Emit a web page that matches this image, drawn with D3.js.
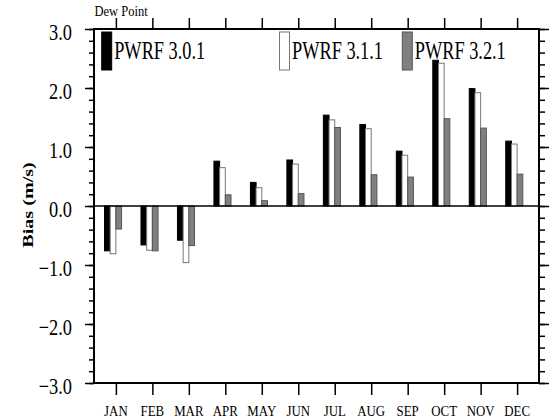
<!DOCTYPE html>
<html><head><meta charset="utf-8">
<script src="https://cdn.jsdelivr.net/npm/d3@7"></script>
<style>body{margin:0;background:#fff}svg{display:block}text{font-family:"Liberation Serif","Times New Roman",serif;fill:#000}</style>
</head><body><svg id="c" width="553" height="419"></svg>
<script>
const months = ["JAN","FEB","MAR","APR","MAY","JUN","JUL","AUG","SEP","OCT","NOV","DEC"];
const seriesNames = ["PWRF 3.0.1","PWRF 3.1.1","PWRF 3.2.1"];
const pwrf301 = [-0.76,-0.66,-0.58,0.76,0.40,0.78,1.54,1.38,0.93,2.47,1.99,1.10];
const pwrf311 = [-0.81,-0.75,-0.96,0.65,0.31,0.71,1.46,1.31,0.86,2.42,1.92,1.05];
const pwrf321 = [-0.39,-0.76,-0.67,0.19,0.09,0.21,1.33,0.53,0.49,1.48,1.32,0.54];
const yTicks = [-3,-2,-1,0,1,2,3];
const title = "Dew Point";
const yTitle = "Bias (m/s)";

const series = [pwrf301, pwrf311, pwrf321];
const fills = ["#000000","#ffffff","#808080"];
const strokes = ["#000000","#777777","#555555"];

const L=94, R=539, T=29, B=383;
const svg = d3.select("#c");
const x = d3.scaleLinear().domain([0.4,12.6]).range([L,R]);
const y = d3.scaleLinear().domain([-3,3]).range([B,T]);
const bw = 0.156;

// bars
series.forEach((s,si)=>{
  svg.append("g").selectAll("rect").data(s).join("rect")
    .attr("x",(d,i)=>x(i+1+(si-2)*bw))
    .attr("width",x(bw)-x(0))
    .attr("y",d=>y(Math.max(0,d)))
    .attr("height",d=>Math.abs(y(d)-y(0)))
    .attr("fill",fills[si]).attr("stroke",strokes[si]).attr("stroke-width",1);
});

// zero line
svg.append("line").attr("x1",L).attr("x2",R).attr("y1",y(0)).attr("y2",y(0)).attr("stroke","#000").attr("stroke-width",1.5);

// axes using d3 axes
const minor = d3.range(-3,3.001,0.2).map(v=>Math.round(v*10)/10);
const gl = svg.append("g").attr("transform",`translate(${L},0)`);
gl.call(d3.axisLeft(y).tickValues(minor).tickSize(5).tickFormat(""));
const gl2 = svg.append("g").attr("transform",`translate(${L},0)`);
gl2.call(d3.axisLeft(y).tickValues(yTicks).tickSize(9).tickFormat(""));
const gr = svg.append("g").attr("transform",`translate(${R},0)`);
gr.call(d3.axisRight(y).tickValues(minor).tickSize(6).tickFormat(""));
const gr2 = svg.append("g").attr("transform",`translate(${R},0)`);
gr2.call(d3.axisRight(y).tickValues(yTicks).tickSize(10).tickFormat(""));
const monthIdx = d3.range(1,13);
const gt = svg.append("g").attr("transform",`translate(0,${T})`);
gt.call(d3.axisTop(x).tickValues(monthIdx).tickSize(11).tickFormat(""));
const gb = svg.append("g").attr("transform",`translate(0,${B})`);
gb.call(d3.axisBottom(x).tickValues(monthIdx).tickSize(12).tickFormat(""));
svg.selectAll(".domain").remove();
svg.selectAll(".tick line").attr("stroke","#000").attr("stroke-width",1.5);

// frame
svg.append("rect").attr("x",L).attr("y",T).attr("width",R-L).attr("height",B-T)
  .attr("fill","none").attr("stroke","#000").attr("stroke-width",2);

// y tick labels
svg.append("g").selectAll("text").data(yTicks).join("text")
  .attr("transform",d=>`translate(72,${y(d)+10.5}) scale(1,1.29)`)
  .attr("text-anchor","end").attr("font-size",18.4)
  .text(d=>d3.format(".1f")(d));

// month labels
svg.append("g").selectAll("text").data(months).join("text")
  .attr("transform",(d,i)=>`translate(${x(i+1)},415.5) scale(1,1.2)`)
  .attr("text-anchor","middle").attr("font-size",12.9)
  .text(d=>d);

// title
svg.append("text").attr("transform","translate(94.5,16) scale(1,1.15)")
  .attr("font-size",12.5).text(title);

// y title
svg.append("text").attr("transform","translate(32.5,205) scale(1,1.3) rotate(-90)")
  .attr("text-anchor","middle").attr("font-size",15.5).attr("font-weight","bold").text(yTitle);

// legend
const legX = [101.7, 279.5, 402.3];
const lg = svg.append("g");
seriesNames.forEach((n,i)=>{
  lg.append("rect").attr("x",legX[i]).attr("y",32).attr("width",10).attr("height",38)
    .attr("fill",fills[i]).attr("stroke",strokes[i]).attr("stroke-width",1);
  lg.append("text").attr("transform",`translate(${legX[i]+12.5},59) scale(1,1.4)`)
    .attr("font-size",18.3).text(n);
});
</script></body></html>
